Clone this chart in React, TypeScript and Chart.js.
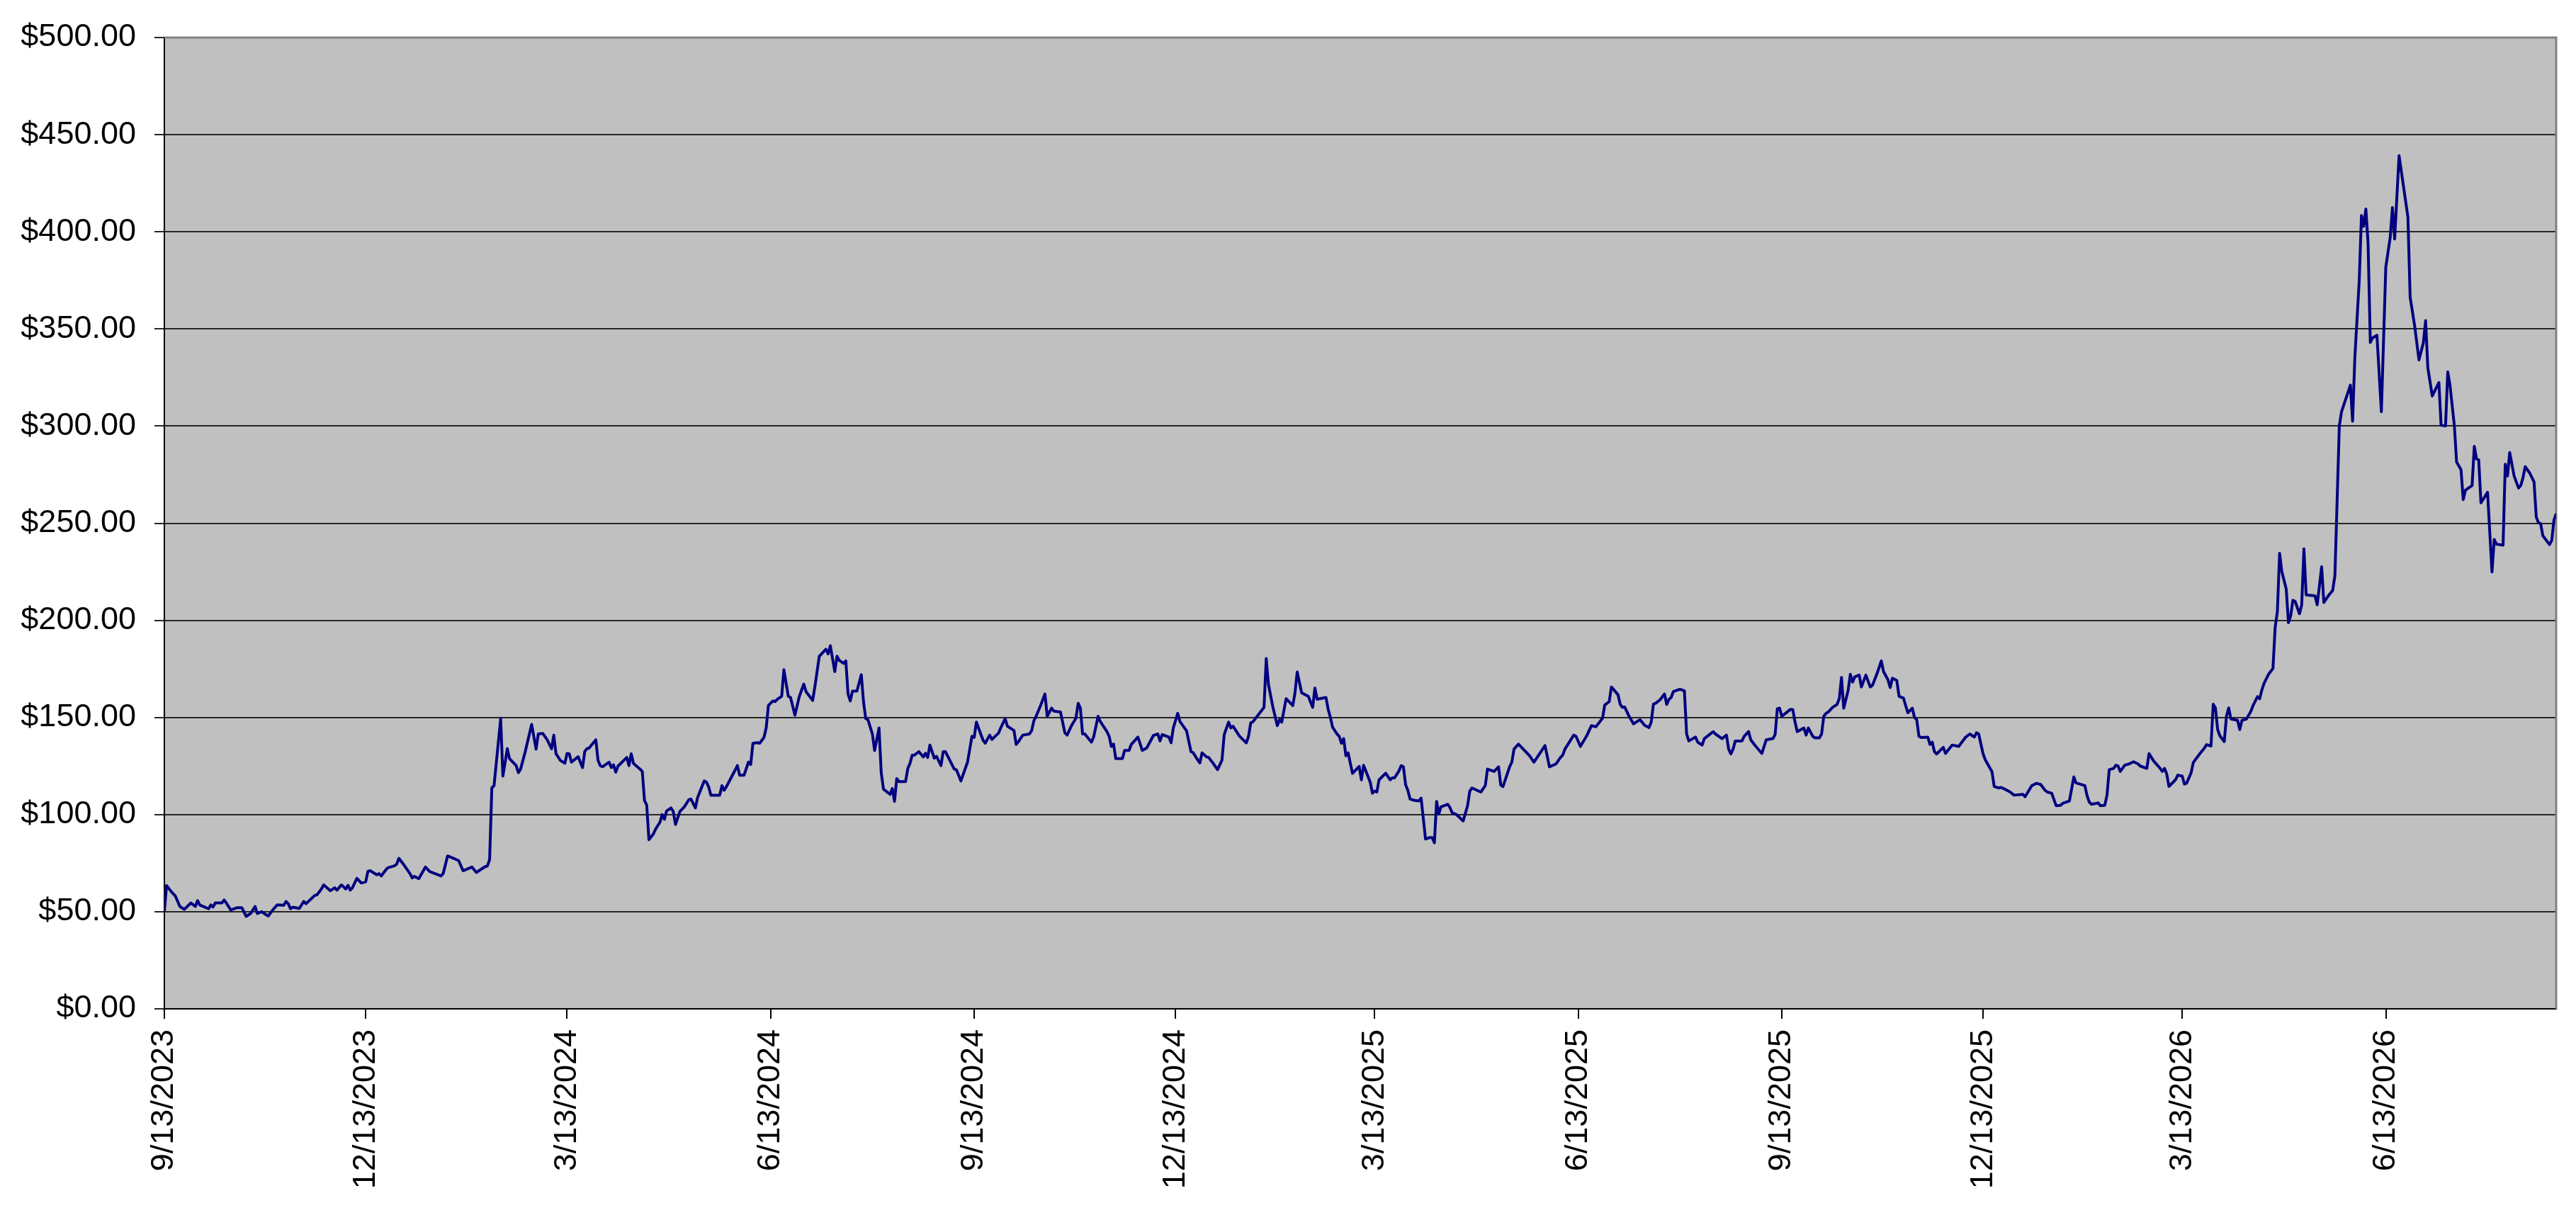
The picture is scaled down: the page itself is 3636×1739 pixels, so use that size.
import React, { useEffect, useRef } from 'react';
import { Chart, registerables } from 'chart.js';

Chart.register(...registerables);

// x = days since 9/13/2023, y = price in dollars
const series2023: [number, number][] = [
  [0, 50.2], [1, 63.5], [3, 60.5], [5, 58], [7, 52.7], [9, 51.2], [12, 54.5], [14, 52.7], [15, 55.7], [16, 53.5],
  [20, 51.5], [21, 53.5], [22, 52.4], [23, 54.5], [26, 54.5], [27, 56], [28, 54.5], [30, 50.9], [33, 52.1], [35, 52.1],
  [37, 47.6], [39, 49.1], [41, 52.7], [42, 49.1], [44, 50], [46, 48.4], [47, 47.8], [49, 50.9], [51, 53.5], [54, 53.3],
  [55, 55.3], [56, 54.1], [57, 51.5], [58, 52.3], [61, 51.7], [63, 55.3], [64, 54.1], [68, 58.4], [69, 58.7], [71, 61.7],
  [72, 63.8], [75, 60.8], [77, 62.3], [78, 61.1], [80, 63.8], [82, 61.7], [83, 63.6], [84, 61.1], [85, 62.3], [87, 67.2],
  [89, 64.8], [91, 65.4], [92, 70.8], [93, 71.1], [96, 69], [97, 69.6], [98, 68.4], [100, 71.4], [101, 72.6], [104, 73.6],
  [105, 74.5], [106, 77.5], [108, 74.5],
];

const series2024: [number, number][] = [
  [111, 69.6], [112, 67.4], [113, 68.2], [115, 67], [118, 73], [120, 70.6], [121, 70.2], [125, 68.4], [126, 69.6], [128, 78.7],
  [130, 77.8], [133, 76.3], [135, 71.1], [139, 73], [141, 70.2], [145, 73.2], [146, 73.5], [147, 76.8], [148, 113.7], [149, 114.9],
  [152, 149.4], [153, 119.8], [155, 133.9], [156, 128.8], [159, 125.2], [160, 121.6], [161, 123.4], [163, 131.9], [166, 146.4], [168, 133.7],
  [169, 141.5], [171, 141.8], [173, 138.5], [175, 133.9], [176, 140.9], [177, 131.3], [179, 127.9], [181, 126.4], [182, 131.5], [183, 131.3],
  [184, 127], [187, 129.8], [189, 124.2], [190, 132.5], [191, 133.9], [192, 134.3], [195, 138.5], [196, 127.9], [197, 125.2], [198, 124.6],
  [201, 127], [202, 124.2], [203, 125.6], [204, 121.8], [205, 124.9], [209, 129.4], [210, 125.2], [211, 131.3], [212, 126.4], [215, 123.4],
  [216, 122.2], [217, 107.3], [218, 104.9], [219, 87.1], [221, 90], [222, 92.5], [224, 96.1], [225, 100], [226, 97.6], [227, 101.9],
  [229, 103.4], [230, 101.6], [231, 94.9], [233, 101.6], [235, 104], [237, 107.6], [238, 108], [240, 103.4], [241, 108.8], [244, 117.3],
  [245, 116.7], [246, 114.3], [247, 110], [251, 110], [252, 114.9], [253, 112.5], [254, 114.3], [259, 125.2], [260, 120.3], [262, 120.3],
  [264, 127], [265, 125.8], [266, 136.7], [268, 137], [269, 136.7], [271, 139.7], [272, 144.6], [273, 156.1], [275, 158.5], [276, 158.2],
  [277, 159.3], [279, 160.9], [280, 174.6], [282, 160.9], [283, 160.3], [285, 151.2], [287, 160.9], [289, 167.2], [290, 163.3], [293, 158.8],
  [294, 165.7], [296, 181.5], [299, 185.1], [300, 182.7], [301, 186.9], [303, 173.6], [304, 181.5], [305, 179.4], [307, 177.8], [308, 179.1],
  [309, 162.1], [310, 158.5], [311, 163.6], [313, 163.6], [315, 172], [316, 157.9], [317, 149.4], [318, 148.8], [320, 141.5], [321, 133],
  [323, 144.6], [324, 121.5], [325, 113.1], [328, 110.4], [329, 113.4], [330, 106.8], [331, 118.5], [332, 117], [335, 117], [336, 123.7],
  [337, 126.4], [338, 130.6], [339, 130.6], [341, 132.4], [343, 129.7], [344, 131.5], [345, 129.4], [346, 135.8], [348, 129], [349, 130],
  [351, 125.2], [352, 132.4], [353, 132.4], [357, 123.4], [358, 123], [360, 117.3], [363, 127], [365, 140.3], [366, 139.7], [367, 147.6],
  [370, 138.3], [371, 136.7], [373, 140.9], [374, 138.7], [377, 141.9], [378, 144.6], [380, 149.4], [381, 145.5], [384, 143.3], [385, 136.1],
  [386, 137.5], [388, 140.9], [391, 141.5], [392, 143.3], [393, 148.4], [394, 150.6], [396, 156.1], [398, 162.1], [399, 150.6], [401, 154.8],
  [402, 153.3], [405, 152.8], [407, 142.1], [408, 140.9], [410, 145.8], [412, 149.6], [413, 157.3], [414, 154.8], [415, 141.5], [416, 141.5],
  [419, 137.3], [420, 139.9], [422, 150.6], [423, 147.9], [426, 142.7], [427, 140.3], [428, 135.1], [429, 136.3], [430, 128.8], [433, 128.8],
  [434, 133], [436, 133], [437, 136.1], [440, 139.9], [442, 133], [444, 134.3], [447, 140.7], [449, 141.5], [450, 137.9], [451, 141.2],
  [454, 139.9], [455, 137], [456, 144.6], [458, 152.1], [459, 147.9], [462, 143.1], [464, 132.4], [465, 131.8], [467, 128.2], [468, 126.6],
  [469, 131.8], [471, 129.7], [472, 129.4], [474, 126.4],
];

const series2025: [number, number][] = [
  [476, 123.1], [478, 128], [479, 141.2], [481, 147.6], [482, 144.6], [483, 145.5], [486, 140.3], [489, 136.9], [490, 140.3], [491, 147.2],
  [492, 147.8], [497, 155.2], [498, 180.3], [499, 167], [501, 155.4], [503, 145.8], [504, 148.8], [505, 147.6], [507, 159.7], [510, 156.1],
  [511, 162.7], [512, 173.4], [514, 162.7], [516, 161.5], [517, 160.9], [519, 155.2], [520, 165.1], [521, 159.4], [525, 160.3], [526, 154.2],
  [527, 150], [528, 144.9], [530, 141.5], [531, 140.3], [532, 136.7], [533, 139.1], [534, 130.3], [535, 131.8], [537, 121.2], [540, 124.8],
  [541, 117.9], [542, 125.4], [545, 116.7], [546, 111], [547, 112.1], [548, 111.6], [549, 117.9], [552, 121.3], [554, 117.9], [555, 118.9],
  [556, 118.9], [558, 122.5], [559, 125.2], [560, 124.6], [561, 115.3], [562, 112.5], [563, 108], [565, 107.3], [567, 107], [568, 108.5],
  [570, 87.4], [572, 88.2], [573, 88.2], [574, 85.5], [575, 106.8], [576, 100.4], [577, 104], [580, 105.3], [581, 103.7], [582, 101],
  [584, 100], [587, 96.7], [589, 104.6], [590, 112.1], [591, 113.7], [595, 111.6], [597, 114.9], [598, 123.4], [601, 122.2], [603, 124.6],
  [604, 115.2], [605, 114.4], [608, 124.6], [609, 127], [610, 133.7], [612, 136.3], [616, 131.5], [617, 130.3], [619, 127], [624, 135.5],
  [626, 124.6], [629, 126.1], [631, 129.4], [632, 130.6], [633, 133.7], [637, 140.9], [638, 140.3], [640, 135.1], [643, 140.9], [645, 145.8],
  [647, 145.2], [650, 149.6], [651, 156.4], [653, 158.1], [654, 165.7], [657, 161.7], [658, 156.7], [659, 155.2], [660, 155.4], [662, 150.6],
  [664, 146.7], [666, 148.2], [667, 148.8], [669, 146], [671, 144.8], [672, 147.6], [673, 156.9], [674, 157.3], [676, 159.1], [678, 162.1],
  [679, 156.7], [680, 159.3], [681, 160.3], [682, 163.3], [685, 164.5], [687, 163.7], [688, 141.5], [689, 137.9], [692, 139.9], [693, 137.3],
  [695, 135.8], [696, 139.1], [700, 142.7], [701, 141.5], [704, 139.1], [706, 140.9], [707, 133.7], [708, 131.2], [709, 133.7], [710, 137.9],
  [713, 137.9], [714, 140.3], [716, 142.7], [717, 138.5], [719, 135.5], [722, 131.5], [724, 138.5], [727, 139.1], [728, 141.2], [729, 154.5],
  [730, 154.8], [731, 150.6], [733, 152.4], [735, 154.2], [736, 154], [737, 147.6], [738, 142.7], [741, 144.6], [742, 140.9], [743, 144.6],
  [745, 140.3], [746, 139.5], [748, 139.5], [749, 141.5], [750, 150.6], [751, 152.1], [752, 152.8], [754, 155.2], [756, 156.7], [757, 159.7],
  [758, 170.6], [759, 154.8], [761, 163.9], [762, 172.2], [763, 168.2], [764, 170.9], [766, 171.8], [767, 165.7], [769, 171.8], [771, 165.7],
  [772, 166.6], [774, 172.4], [776, 179.1], [777, 173.6], [779, 169.4], [780, 165.4], [781, 170.2], [783, 169], [784, 160.9], [786, 160],
  [787, 156.1], [788, 152.4], [790, 154.8], [791, 150], [792, 148.8], [793, 140.3], [794, 139.7], [797, 139.9], [798, 136.1], [799, 137.3],
  [800, 132.4], [801, 131.2], [804, 134.6], [805, 131.5], [808, 135.8], [811, 135.1], [812, 136.7], [814, 139.7], [816, 141.5], [818, 139.9],
  [819, 142.1], [820, 141.5], [822, 131.2], [823, 128.2], [826, 122.1], [827, 114.5], [829, 113.7], [830, 114], [832, 113], [834, 111.8],
  [836, 110], [840, 110.4],
];

const series2026: [number, number][] = [
  [841, 109.2], [844, 114.9], [846, 116.1], [848, 115.5], [850, 112.5], [851, 111.6], [853, 111], [855, 104.6], [857, 104.8], [858, 105.8],
  [861, 107], [863, 119.4], [864, 116.3], [868, 114.9], [869, 109.7], [870, 106.4], [871, 105.3], [874, 106], [875, 104.6], [877, 104.8],
  [878, 110], [879, 123.1], [881, 123.8], [882, 125.4], [883, 125], [884, 122.2], [886, 125.4], [888, 126.1], [890, 127.2], [892, 126.1],
  [893, 125], [896, 123.8], [897, 131.4], [899, 127.7], [902, 123.8], [903, 122.2], [904, 123.8], [905, 120.8], [906, 114.5], [908, 116.8],
  [909, 118], [910, 120.3], [912, 119.8], [913, 115.7], [914, 116.2], [916, 121.5], [917, 126.8], [918, 128.4], [920, 131.4], [922, 134.2],
  [923, 136], [925, 135.3], [926, 156.8], [927, 154.9], [928, 143.8], [929, 140.6], [931, 137.6], [932, 150.7], [933, 154.9], [934, 149.2],
  [937, 148.5], [938, 143.8], [939, 148.5], [941, 149.2], [943, 153.1], [944, 156.1], [946, 160.7], [947, 159.6], [948, 164.2], [949, 167.6],
  [951, 172.2], [953, 175.2], [954, 196.4], [955, 204.5], [956, 234.5], [957, 225.2], [959, 216.1], [960, 198.8], [961, 202.2], [962, 210.3],
  [963, 209.8], [965, 203.4], [966, 208], [967, 236.8], [968, 213.1], [972, 212.6], [973, 208], [975, 227.6], [976, 209.2], [978, 212.6],
  [980, 215.4], [981, 223], [983, 300.1], [984, 307.4], [988, 321.1], [989, 302.5], [990, 335], [992, 375], [993, 408.4], [994, 402.8],
  [995, 411.7], [996, 393.9], [997, 343], [998, 345.4], [1000, 346.7], [1002, 307.4], [1004, 381.8], [1006, 397.1], [1007, 412.5], [1008, 396.3],
  [1010, 439.2], [1014, 407.6], [1015, 366.4], [1017, 351.9], [1019, 334.1], [1021, 343], [1022, 354.3], [1023, 330], [1025, 315.5], [1028, 322.4],
  [1029, 300.4], [1031, 300.1], [1032, 327.9], [1033, 321.1], [1035, 300.1], [1036, 281.5], [1038, 277.5], [1039, 262.1], [1040, 267], [1043, 269.4],
  [1044, 289.6], [1045, 283.1], [1046, 282.7], [1047, 260.5], [1050, 265.9], [1051, 245.2], [1052, 224.9], [1053, 241.6], [1054, 239.2], [1057, 238.7],
  [1058, 280.4], [1059, 274.3], [1060, 286.4], [1062, 274.3], [1064, 268.1], [1065, 269.4], [1066, 273.4], [1067, 279.1], [1069, 275.9], [1071, 271.3],
  [1072, 253.2], [1073, 250.3], [1074, 249.7], [1075, 243.5], [1078, 239], [1079, 241.1], [1080, 251.6], [1081, 254.9],
];

const tickDays = [0, 91, 182, 274, 366, 457, 547, 639, 731, 822, 912, 1004];
const tickLabels = [
  '9/13/2023', '12/13/2023', '3/13/2024', '6/13/2024', '9/13/2024', '12/13/2024',
  '3/13/2025', '6/13/2025', '9/13/2025', '12/13/2025', '3/13/2026', '6/13/2026',
];
const yTickValues = [0, 50, 100, 150, 200, 250, 300, 350, 400, 450, 500];
const X_MAX_DAY = 1081;

const FONT = "'Liberation Sans', Arial, Helvetica, sans-serif";

export default function App() {
  const canvasRef = useRef<HTMLCanvasElement | null>(null);

  useEffect(() => {
    const canvas = canvasRef.current;
    if (!canvas) return;
    const points = [...series2023, ...series2024, ...series2025, ...series2026].map(([d, p]) => ({ x: d, y: p }));

    const plotFrame = {
      id: 'plotFrame',
      beforeDraw(chart: any) {
        const { ctx, chartArea: a } = chart;
        ctx.save();
        ctx.fillStyle = '#C0C0C0';
        ctx.fillRect(a.left, a.top, a.right - a.left, a.bottom - a.top);
        ctx.restore();
      },
      beforeDatasetsDraw(chart: any) {
        const { ctx, chartArea: a } = chart;
        ctx.save();
        ctx.strokeStyle = '#808080';
        ctx.lineWidth = 3;
        ctx.beginPath();
        ctx.moveTo(a.left, a.top);
        ctx.lineTo(a.right, a.top);
        ctx.lineTo(a.right, a.bottom);
        ctx.stroke();
        ctx.restore();
      },
    };

    const chart = new Chart(canvas, {
      type: 'line',
      data: {
        datasets: [
          {
            data: points,
            borderColor: '#000080',
            borderWidth: 4,
            borderJoinStyle: 'round',
            pointRadius: 0,
            tension: 0,
            fill: false,
          },
        ],
      },
      options: {
        animation: false,
        responsive: true,
        maintainAspectRatio: false,
        layout: { padding: { top: 44, right: 28, left: 0, bottom: 0 } },
        plugins: { legend: { display: false }, tooltip: { enabled: false } },
        scales: {
          x: {
            type: 'linear',
            min: 0,
            max: X_MAX_DAY,
            afterBuildTicks: (axis: any) => {
              axis.ticks = tickDays.map((v) => ({ value: v }));
            },
            afterFit: (s: any) => {
              s.height = 315;
            },
            ticks: {
              autoSkip: false,
              maxRotation: 90,
              minRotation: 90,
              padding: 15,
              color: '#000',
              font: { family: FONT, size: 45 },
              callback: (v: any) => {
                const i = tickDays.indexOf(Number(v));
                return i >= 0 ? tickLabels[i] : '';
              },
            },
            grid: { drawOnChartArea: false, drawTicks: true, tickLength: 14, color: '#000', lineWidth: 2 },
            border: { display: true, color: '#000', width: 2 },
          },
          y: {
            min: 0,
            max: 500,
            afterBuildTicks: (axis: any) => {
              axis.ticks = yTickValues.map((v) => ({ value: v }));
            },
            afterFit: (s: any) => {
              s.width = 232;
            },
            ticks: {
              padding: 26,
              color: '#000',
              font: { family: FONT, size: 45 },
              callback: (v: any) => '$' + Number(v).toFixed(2),
            },
            grid: { color: '#262626', lineWidth: 2, tickLength: 14, drawTicks: true },
            border: { display: true, color: '#000', width: 2 },
          },
        },
      },
      plugins: [plotFrame],
    } as any);

    return () => chart.destroy();
  }, []);

  return (
    <div style={{ position: 'fixed', left: 0, top: 0, width: '3636px', height: '1739px', background: '#fff' }}>
      <canvas ref={canvasRef} />
    </div>
  );
}
